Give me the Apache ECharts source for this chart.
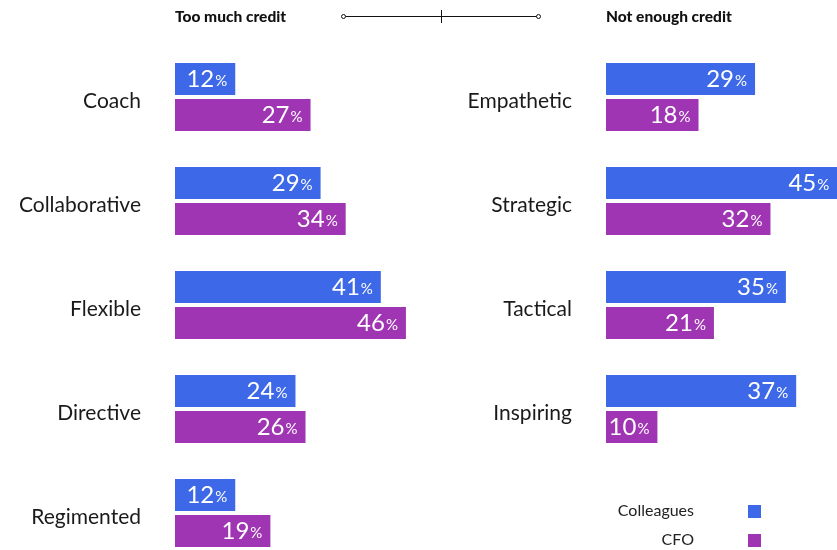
<!DOCTYPE html>
<html><head><meta charset="utf-8">
<script src="https://cdn.jsdelivr.net/npm/echarts@6/dist/echarts.min.js"></script>
<style>html,body{margin:0;padding:0;background:#fff}#c{width:837px;height:550px}</style>
</head><body><div id="c"></div>
<script>
const leftTitle = 'Too much credit';
const rightTitle = 'Not enough credit';
const leftCats = ['Coach', 'Collaborative', 'Flexible', 'Directive', 'Regimented'];
const leftColleagues = [12, 29, 41, 24, 12];
const leftCFO = [27, 34, 46, 26, 19];
const rightCats = ['Empathetic', 'Strategic', 'Tactical', 'Inspiring'];
const rightColleagues = [29, 45, 35, 37];
const rightCFO = [18, 32, 21, 10];
const seriesNames = ['Colleagues', 'CFO'];
const colors = ['#3d69e8', '#9f35b2'];

const FONT = 'Lato';
const chart = echarts.init(document.getElementById('c'));
const band = 104;
const label = {
  show: true, position: 'insideRight', distance: 8,
  formatter: p => '{n|' + p.value + '}{p|%}',
  rich: {
    n: { color: '#fff', fontSize: 24, fontFamily: FONT },
    p: { color: '#fff', fontSize: 15, fontFamily: FONT, padding: [5, 0, 0, 1] }
  }
};
function bar(name, data, idx, color) {
  return {
    type: 'bar', name: name, data: data, xAxisIndex: idx, yAxisIndex: idx,
    barWidth: 32, barGap: '12.5%', itemStyle: { color: color }, label: label,
    silent: true, animation: false
  };
}
const yAx = (cats, idx) => ({
  type: 'category', data: cats, inverse: true, gridIndex: idx,
  axisLine: { show: false }, axisTick: { show: false },
  axisLabel: {
    margin: 34,
    formatter: v => '{a|' + v + '}',
    rich: { a: { color: '#1a1a1a', fontSize: 21, fontFamily: FONT, padding: [8, 0, 0, 0] } }
  }
});
const xAx = idx => ({ type: 'value', min: 0, max: 50, gridIndex: idx, show: false });
chart.setOption({
  animation: false,
  grid: [
    { left: 175, top: 45, width: 251, height: band * leftCats.length, outerBoundsMode: 'none', containLabel: false },
    { left: 606, top: 45, width: 257, height: band * rightCats.length, outerBoundsMode: 'none', containLabel: false }
  ],
  xAxis: [xAx(0), xAx(1)],
  yAxis: [yAx(leftCats, 0), yAx(rightCats, 1)],
  series: [
    bar(seriesNames[0], leftColleagues, 0, colors[0]),
    bar(seriesNames[1], leftCFO, 0, colors[1]),
    bar(seriesNames[0], rightColleagues, 1, colors[0]),
    bar(seriesNames[1], rightCFO, 1, colors[1])
  ],
  graphic: [
    { type: 'text', left: 175, top: 9, style: { text: leftTitle, font: '900 15.5px ' + FONT, fill: '#111' } },
    { type: 'text', left: 606, top: 9, style: { text: rightTitle, font: '900 15.5px ' + FONT, fill: '#111' } },
    { type: 'line', shape: { x1: 345, y1: 16.5, x2: 537, y2: 16.5 }, style: { stroke: '#111', lineWidth: 1 } },
    { type: 'line', shape: { x1: 441.5, y1: 10, x2: 441.5, y2: 23 }, style: { stroke: '#111', lineWidth: 1 } },
    { type: 'circle', shape: { cx: 343.5, cy: 16.5, r: 2 }, style: { stroke: '#111', fill: '#fff', lineWidth: 1 } },
    { type: 'circle', shape: { cx: 538.5, cy: 16.5, r: 2 }, style: { stroke: '#111', fill: '#fff', lineWidth: 1 } },
    { type: 'text', right: 837 - 694, top: 503, style: { text: seriesNames[0], font: '16px ' + FONT, fill: '#222', textAlign: 'right' } },
    { type: 'text', right: 837 - 694, top: 532, style: { text: seriesNames[1], font: '16px ' + FONT, fill: '#222', textAlign: 'right' } },
    { type: 'rect', shape: { x: 748, y: 505, width: 13, height: 13 }, style: { fill: colors[0] } },
    { type: 'rect', shape: { x: 748, y: 534, width: 13, height: 13 }, style: { fill: colors[1] } }
  ]
});
</script></body></html>
